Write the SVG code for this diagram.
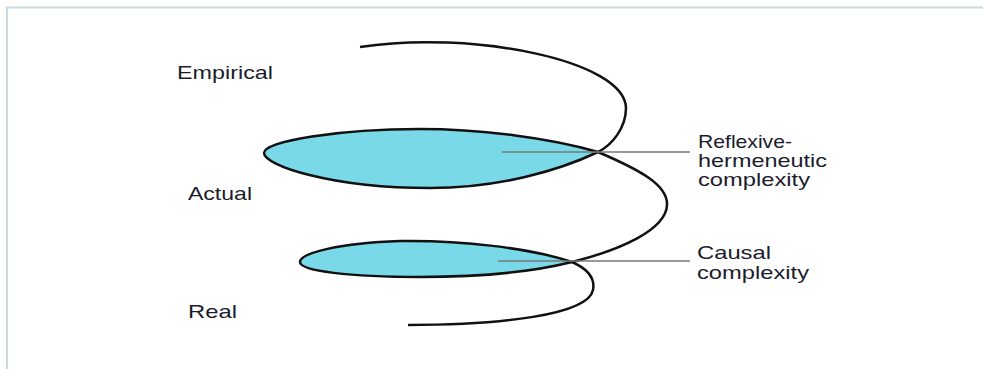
<svg xmlns="http://www.w3.org/2000/svg" width="983" height="369" viewBox="0 0 983 369">
<style>
.lbl{font-family:"Liberation Sans",Arial,sans-serif;font-size:19px;fill:#1c1c2c}
.lens{fill:#7ad9e8;stroke:#111;stroke-width:2.5}
.sp{fill:none;stroke:#111;stroke-width:2.5}
.lead{stroke:#777;stroke-width:1.5}
</style>
<rect width="983" height="369" fill="#fff"/>
<path d="M7 369 V7.5 H983" fill="none" stroke="#c8dbe4" stroke-width="2"/>
<g id="lens-top"><path class="lens" d="M598 152 C550 138,480 129,420 129 C340 129,264 141,264 153 C264 165,330 188,430 188 C500 188,560 170,598 152 Z"/></g>
<g id="lens-bottom"><path class="lens" d="M572 262 C530 248,460 240,400 241 C340 243,300 253,300 262 C300 271,350 277,420 277 C490 277,540 270,572 262 Z"/></g>
<g id="spiral">
<path class="sp" d="M360 47 C470 30,625 60,626 108 C626 128,612 145,598 152"/>
<path class="sp" d="M598 152 C640 170,668 185,667 205 C666 230,620 250,572 262"/>
<path class="sp" d="M572 262 C590 270,595 280,593 290 C588 315,500 325,408 325"/>
</g>
<g id="connectors">
<line class="lead" x1="502" y1="152" x2="690" y2="152"/>
<line class="lead" x1="498" y1="261" x2="690" y2="261"/>
</g>
<g id="empirical"><text class="lbl" x="177" y="79" textLength="96" lengthAdjust="spacingAndGlyphs">Empirical</text></g>
<g id="actual"><text class="lbl" x="188" y="200" textLength="64" lengthAdjust="spacingAndGlyphs">Actual</text></g>
<g id="real"><text class="lbl" x="188" y="318" textLength="49" lengthAdjust="spacingAndGlyphs">Real</text></g>
<g id="reflexive"><text class="lbl"><tspan x="698" y="148" textLength="94" lengthAdjust="spacingAndGlyphs">Reflexive-</tspan><tspan x="698" y="167" textLength="129" lengthAdjust="spacingAndGlyphs">hermeneutic</tspan><tspan x="698" y="186" textLength="112" lengthAdjust="spacingAndGlyphs">complexity</tspan></text></g>
<g id="causal"><text class="lbl"><tspan x="697" y="259" textLength="74" lengthAdjust="spacingAndGlyphs">Causal</tspan><tspan x="697" y="279" textLength="112" lengthAdjust="spacingAndGlyphs">complexity</tspan></text></g>
</svg>
